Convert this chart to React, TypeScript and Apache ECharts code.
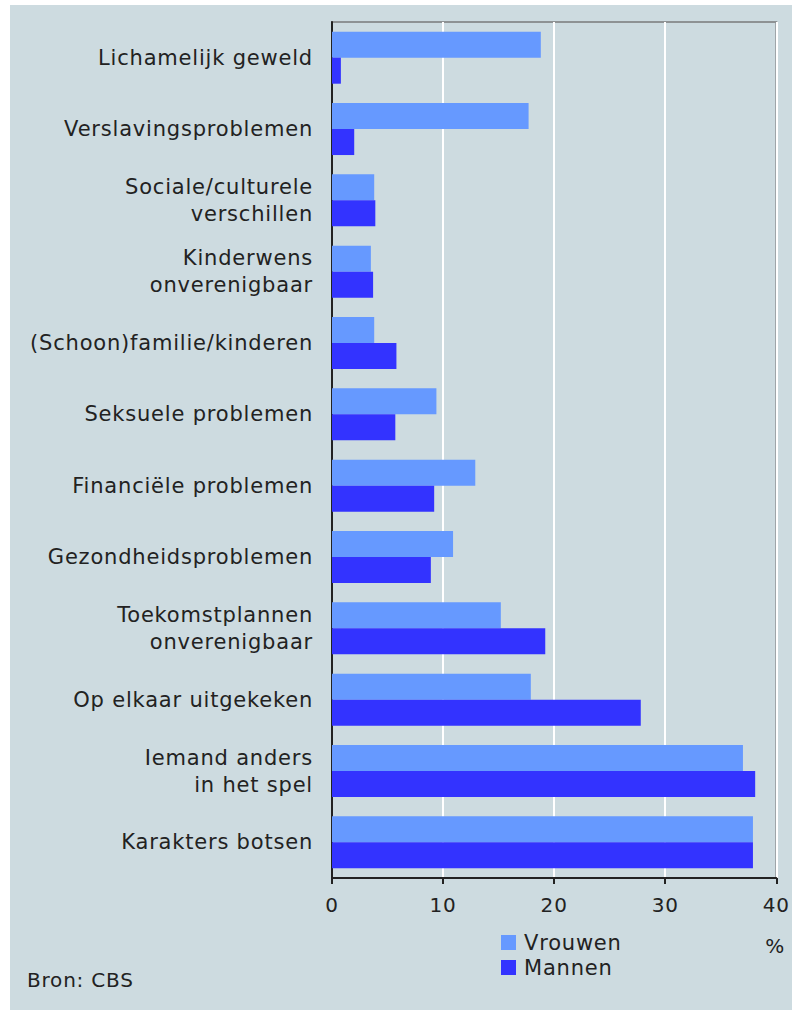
import React, { useEffect, useRef } from "react";
import * as echarts from "echarts";

const categories = [
  "Lichamelijk geweld",
  "Verslavingsproblemen",
  "Sociale/culturele\nverschillen",
  "Kinderwens\nonverenigbaar",
  "(Schoon)familie/kinderen",
  "Seksuele problemen",
  "Financiële problemen",
  "Gezondheidsproblemen",
  "Toekomstplannen\nonverenigbaar",
  "Op elkaar uitgekeken",
  "Iemand anders\nin het spel",
  "Karakters botsen",
];
const vrouwen = [18.8, 17.7, 3.8, 3.5, 3.8, 9.4, 12.9, 10.9, 15.2, 17.9, 37.0, 37.9];
const mannen = [0.8, 2.0, 3.9, 3.7, 5.8, 5.7, 9.2, 8.9, 19.2, 27.8, 38.1, 37.9];
const xTicks = { min: 0, max: 40, interval: 10 };

const FONT = "'DejaVu Sans', Verdana, sans-serif";
const BG = "#cddbe0";

export default function App() {
  const ref = useRef<HTMLDivElement>(null);
  useEffect(() => {
    if (!ref.current) return;
    const chart = echarts.init(ref.current, undefined, { renderer: "svg" });
    chart.setOption({
      animation: false,
      backgroundColor: "#ffffff",
      textStyle: { fontFamily: FONT },
      graphic: [
        {
          type: "rect",
          z: -100,
          silent: true,
          shape: { x: 10, y: 5, width: 782, height: 1005 },
          style: { fill: BG },
        },
        {
          type: "text",
          x: 785,
          y: 946,
          style: {
            text: "%",
            font: `20px ${FONT}`,
            fill: "#222",
            align: "right",
            verticalAlign: "middle",
          },
        },
        {
          type: "text",
          x: 27,
          y: 980,
          style: {
            text: "Bron: CBS",
            font: `20px ${FONT}`,
            fill: "#222",
            align: "left",
            verticalAlign: "middle",
          },
        },
      ],
      legend: {
        data: ["Vrouwen", "Mannen"],
        orient: "vertical",
        left: 501,
        top: 932,
        padding: 0,
        itemWidth: 15,
        itemHeight: 15,
        itemGap: 4,
        icon: "rect",
        textStyle: {
          fontFamily: FONT,
          fontSize: 21,
          color: "#222",
          lineHeight: 21,
          padding: [0, 0, 0, 3],
        },
      },
      grid: {
        left: 332,
        right: 15,
        top: 22,
        bottom: 132,
        show: true,
        borderColor: "#8e9294",
        borderWidth: 2,
        backgroundColor: BG,
      },
      xAxis: {
        type: "value",
        min: xTicks.min,
        max: xTicks.max,
        interval: xTicks.interval,
        axisLine: { show: true, onZero: false, lineStyle: { color: "#222", width: 2 } },
        axisTick: { show: true, length: 6, lineStyle: { color: "#222", width: 2 } },
        axisLabel: { fontFamily: FONT, fontSize: 20, color: "#222", margin: 17 },
        splitLine: { show: true, lineStyle: { color: "#ffffff", width: 2 } },
      },
      yAxis: {
        type: "category",
        data: categories,
        inverse: true,
        axisLine: { show: true, lineStyle: { color: "#222", width: 2 } },
        axisTick: { show: false },
        axisLabel: {
          fontFamily: FONT,
          fontSize: 21,
          color: "#222",
          margin: 19,
          lineHeight: 27,
          align: "right",
        },
      },
      series: [
        {
          name: "Vrouwen",
          type: "bar",
          data: vrouwen,
          barGap: "0%",
          barCategoryGap: "27%",
          itemStyle: { color: "#6699ff" },
        },
        {
          name: "Mannen",
          type: "bar",
          data: mannen,
          barGap: "0%",
          barCategoryGap: "27%",
          itemStyle: { color: "#3333ff" },
        },
      ],
    });
    return () => chart.dispose();
  }, []);
  return (
    <div
      ref={ref}
      style={{
        position: "absolute",
        left: 0,
        top: 0,
        width: 792,
        height: 1010,
        letterSpacing: "0.8px",
      }}
    />
  );
}
